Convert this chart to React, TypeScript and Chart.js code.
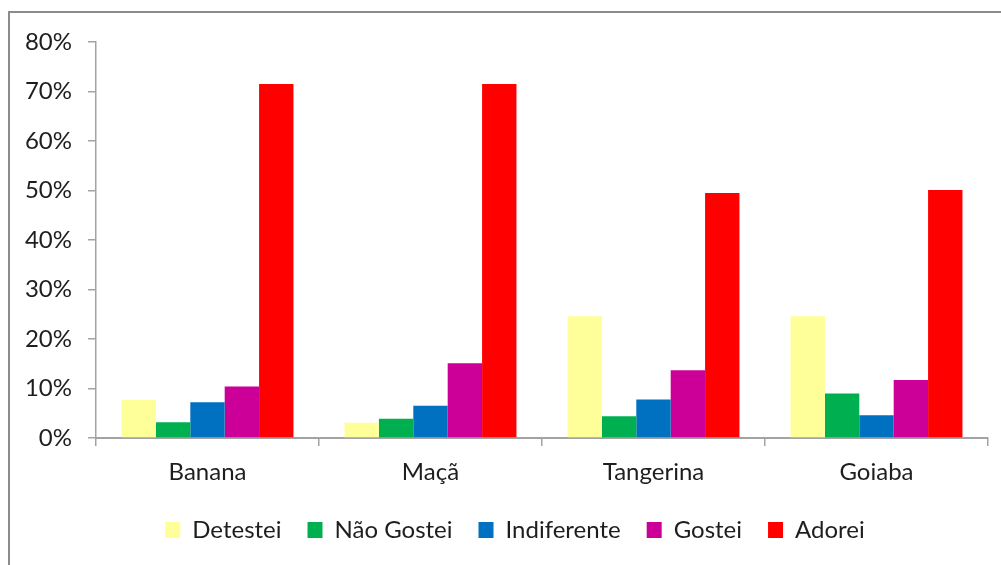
import React, { useEffect, useRef } from "react";
import { Chart, registerables } from "chart.js";

Chart.register(...registerables);

const categories = ["Banana", "Maçã", "Tangerina", "Goiaba"];
const seriesNames = ["Detestei", "Não Gostei", "Indiferente", "Gostei", "Adorei"];
const detestei = [7.7, 3.1, 24.6, 24.6];
const naoGostei = [3.2, 3.9, 4.4, 9.0];
const indiferente = [7.2, 6.5, 7.8, 4.6];
const gostei = [10.4, 15.1, 13.7, 11.7];
const adorei = [71.5, 71.5, 49.5, 50.1];
const seriesColors = ["#FFFF99", "#00B050", "#0070C0", "#CC0099", "#FF0000"];
const yMax = 80;
const yStep = 10;

const FONT = "Lato";
const TEXT = "#1e1e1e";
const AXIS = "#a3a3a3";

const legendShift = {
  id: "legendShift",
  afterLayout(chart: any) {
    const lg = chart.legend;
    if (lg) {
      lg.left += 21;
      lg.right += 21;
    }
  },
};

export default function App() {
  const ref = useRef<HTMLCanvasElement | null>(null);

  useEffect(() => {
    if (!ref.current) return;
    const values = [detestei, naoGostei, indiferente, gostei, adorei];
    const chart = new Chart(ref.current, {
      type: "bar",
      data: {
        labels: categories,
        datasets: seriesNames.map((name, i) => ({
          label: name,
          data: values[i],
          backgroundColor: seriesColors[i],
          borderWidth: 0,
          categoryPercentage: 0.771,
          barPercentage: 1,
        })),
      },
      plugins: [legendShift],
      options: {
        responsive: false,
        animation: false,
        layout: { padding: { top: 42, right: 13, left: 0, bottom: 0 } },
        plugins: {
          tooltip: { enabled: false },
          legend: {
            position: "bottom",
            labels: {
              boxWidth: 15,
              boxHeight: 16,
              padding: 26,
              color: TEXT,
              font: { family: FONT, size: 24 },
            },
          },
        },
        scales: {
          x: {
            afterFit: (s: any) => {
              s.height = 54;
            },
            grid: {
              display: true,
              drawOnChartArea: false,
              drawTicks: true,
              tickLength: 8,
              color: AXIS,
              lineWidth: 1.5,
              offset: true,
            },
            border: { display: true, color: AXIS, width: 2 },
            ticks: {
              color: TEXT,
              padding: 12,
              font: { family: FONT, size: 24 },
            },
          },
          y: {
            min: 0,
            max: yMax,
            afterFit: (s: any) => {
              s.width = 96;
            },
            grid: {
              display: true,
              drawOnChartArea: false,
              drawTicks: true,
              tickLength: 8,
              color: AXIS,
              lineWidth: 1.5,
            },
            border: { display: true, color: AXIS, width: 1.5 },
            ticks: {
              stepSize: yStep,
              color: TEXT,
              padding: 16,
              font: { family: FONT, size: 24 },
              callback: (v: any) => `${v}%`,
            },
          },
        },
      },
    });
    return () => chart.destroy();
  }, []);

  return (
    <div
      style={{
        position: "fixed",
        left: 0,
        top: 0,
        width: 1001,
        height: 565,
        overflow: "hidden",
        background: "#fff",
      }}
    >
      <div
        style={{
          position: "absolute",
          left: 8,
          top: 11,
          width: 1010,
          height: 570,
          border: "2px solid #8c8c8c",
        }}
      />
      <canvas
        ref={ref}
        width={1001}
        height={552}
        style={{ position: "absolute", left: 0, top: 0, width: 1001, height: 552 }}
      />
    </div>
  );
}
